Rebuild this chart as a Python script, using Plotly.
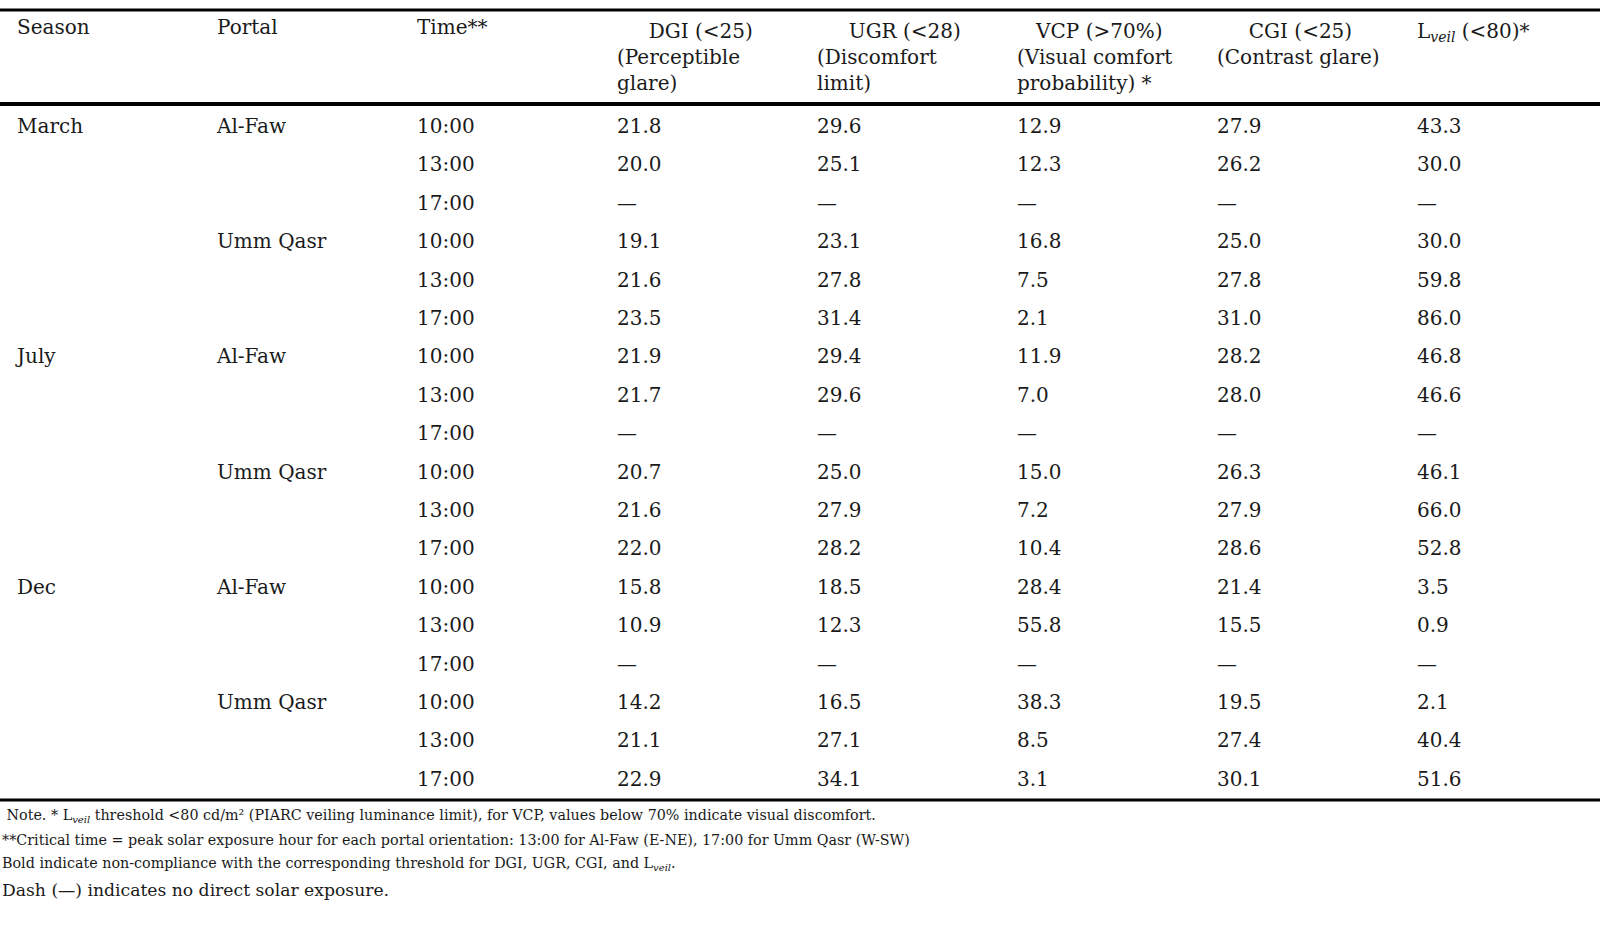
import plotly.graph_objects as go

# table content
season = ["March", "", "", "", "", "", "July", "", "", "", "", "", "Dec", "", "", "", "", ""]
portal = ["Al-Faw", "", "", "Umm Qasr", "", "",
          "Al-Faw", "", "", "Umm Qasr", "", "",
          "Al-Faw", "", "", "Umm Qasr", "", ""]
time = ["10:00", "13:00", "17:00"] * 6
dgi = [21.8, 20.0, None, 19.1, 21.6, 23.5, 21.9, 21.7, None, 20.7, 21.6, 22.0, 15.8, 10.9, None, 14.2, 21.1, 22.9]
ugr = [29.6, 25.1, None, 23.1, 27.8, 31.4, 29.4, 29.6, None, 25.0, 27.9, 28.2, 18.5, 12.3, None, 16.5, 27.1, 34.1]
vcp = [12.9, 12.3, None, 16.8, 7.5, 2.1, 11.9, 7.0, None, 15.0, 7.2, 10.4, 28.4, 55.8, None, 38.3, 8.5, 3.1]
cgi = [27.9, 26.2, None, 25.0, 27.8, 31.0, 28.2, 28.0, None, 26.3, 27.9, 28.6, 21.4, 15.5, None, 19.5, 27.4, 30.1]
lveil = [43.3, 30.0, None, 30.0, 59.8, 86.0, 46.8, 46.6, None, 46.1, 66.0, 52.8, 3.5, 0.9, None, 2.1, 40.4, 51.6]

sp = "\u00a0"
headers = [
    "Season",
    "Portal",
    "Time**",
    sp * 5 + "DGI (<25)<br>(Perceptible<br>glare)",
    sp * 5 + "UGR (<28)<br>(Discomfort<br>limit)",
    sp * 3 + "VCP (>70%)<br>(Visual comfort<br>probability) *",
    sp * 5 + "CGI (<25)<br>(Contrast glare)",
    "L<sub><i>veil</i></sub> (<80)*",
]

notes = [
    " Note. * L<sub><i>veil</i></sub> threshold <80 cd/m² (PIARC veiling luminance limit), for VCP, values below 70% indicate visual discomfort.",
    "**Critical time = peak solar exposure hour for each portal orientation: 13:00 for Al-Faw (E-NE), 17:00 for Umm Qasr (W-SW)",
    "Bold indicate non-compliance with the corresponding threshold for DGI, UGR, CGI, and L<sub><i>veil</i></sub>.",
    "Dash (—) indicates no direct solar exposure.",
]


def fmt(vals):
    return ["—" if v is None else f"{v:.1f}" for v in vals]


W, H = 1600, 925
FONT = "DejaVu Serif"
INK = "#1a1a1a"

fig = go.Figure(go.Table(
    domain=dict(x=[9 / W, 1], y=[1 - 815 / H, 1 - 11 / H]),
    columnwidth=[200] * 7 + [191],
    header=dict(
        values=headers,
        align="left",
        fill_color="white",
        line_color="white",
        height=99,
        font=dict(family=FONT, size=20, color=INK),
    ),
    cells=dict(
        values=[season, portal, time, fmt(dgi), fmt(ugr), fmt(vcp), fmt(cgi), fmt(lveil)],
        align="left",
        fill_color="white",
        line_color="white",
        height=38.4,
        font=dict(family=FONT, size=20, color=INK),
    ),
))

# horizontal rules of the table
for y, w in [(10, 3), (104, 4), (800, 3)]:
    fig.add_shape(type="line", xref="paper", yref="paper",
                  x0=0, x1=1, y0=1 - y / H, y1=1 - y / H,
                  line=dict(color="black", width=w))

note_y = [816, 840, 864, 890]
note_size = [14.3, 14.3, 14.3, 17.2]
for t, y, s in zip(notes, note_y, note_size):
    fig.add_annotation(text=t, xref="paper", yref="paper", x=0, y=1 - y / H,
                       xanchor="left", yanchor="middle", showarrow=False,
                       font=dict(family=FONT, size=s, color=INK))

fig.update_layout(
    width=W, height=H,
    margin=dict(l=0, r=0, t=0, b=0),
    paper_bgcolor="white",
    plot_bgcolor="white",
)
fig.write_html("out.html", config={"displayModeBar": False},
               post_script="document.body.style.margin='0';")
